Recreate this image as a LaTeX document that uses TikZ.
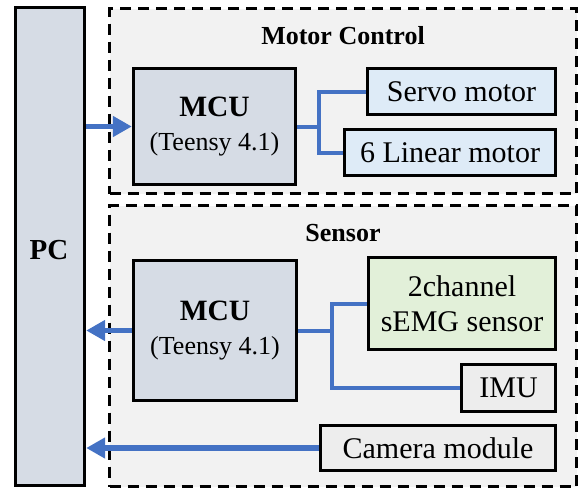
\documentclass[tikz,border=0pt]{standalone}
\usepackage{fontspec}
\setmainfont{Liberation Serif}
\usetikzlibrary{arrows.meta}
\definecolor{pcfill}{HTML}{D6DCE5}
\definecolor{motorfill}{HTML}{DEEBF7}
\definecolor{emgfill}{HTML}{E2F0D9}
\definecolor{grayfill}{HTML}{EDEDED}
\definecolor{groupfill}{HTML}{F2F2F2}
\definecolor{linkblue}{HTML}{4472C4}
\begin{document}
\begin{tikzpicture}[x=1pt,y=-1pt,
  groupbox/.style={draw=black, line width=3.4pt, dash pattern=on 11pt off 7pt, fill=groupfill, inner sep=0pt},
  blockbox/.style={draw=black, line width=3.4pt, inner sep=0pt, align=center, font=\fontsize{30}{35}\selectfont},
  grouptitle/.style={font=\fontsize{26}{30}\selectfont\bfseries, inner sep=0pt},
  mcubox/.style={blockbox, fill=pcfill, font=\fontsize{26}{34}\selectfont},
  link/.style={draw=linkblue, line width=4pt},
  bigarrow/.style={draw=linkblue, line width=5.5pt, -{Triangle[length=19pt,width=20pt]}}
]
\useasboundingbox (0,0) rectangle (580,491);

% groups
\node[groupbox, minimum width=467pt, minimum height=185pt] (motorgrp) at (343,101) {};
\node[groupbox, minimum width=467pt, minimum height=281pt] (sensorgrp) at (343,346) {};
\node[grouptitle] (motortitle) at (343,36) {Motor Control};
\node[grouptitle] (sensortitle) at (343,233) {Sensor};

% PC
\node[blockbox, fill=pcfill, minimum width=69pt, minimum height=478pt] (pc) at (50,246.5) {};
\node[font=\fontsize{29}{34}\selectfont\bfseries, inner sep=0pt] (pclabel) at (49,250) {PC};

% Motor control
\node[mcubox, minimum width=162pt, minimum height=116pt] (mcu1) at (214.5,126.5)
  {{\fontsize{29.5}{34}\selectfont\bfseries MCU}\\(Teensy 4.1)};
\node[blockbox, fill=motorfill, minimum width=188pt, minimum height=46pt] (servo) at (461.5,91.5) {Servo motor};
\node[blockbox, fill=motorfill, minimum width=211pt, minimum height=46pt] (linear) at (450,152.5) {6 Linear motor};

% Sensor
\node[mcubox, minimum width=163pt, minimum height=140pt] (mcu2) at (215,330.5)
  {{\fontsize{29.5}{34}\selectfont\bfseries MCU}\\(Teensy 4.1)};
\node[blockbox, fill=emgfill, minimum width=187pt, minimum height=92pt] (semg) at (462,303.5) {2channel\\sEMG sensor};
\node[blockbox, fill=grayfill, minimum width=94pt, minimum height=47pt] (imu) at (508.5,388) {IMU};
\node[blockbox, fill=grayfill, minimum width=235pt, minimum height=45pt] (camera) at (438,448) {Camera module};

% connectors
\coordinate (j1) at (319,126.5);
\coordinate (j2) at (332,330.5);
\draw[link] (mcu1.east) -- (j1);
\draw[link] (j1) |- (servo.west);
\draw[link] (j1) |- (linear.west);
\draw[link] (mcu2.east) -- (j2);
\draw[link] (j2) |- (semg.west);
\draw[link] (j2) |- (imu.west);

\draw[bigarrow] (pc.east |- mcu1.west) -- (mcu1.west);
\draw[bigarrow] (mcu2.west) -- (pc.east |- mcu2.west);
\draw[bigarrow] (camera.west) -- (pc.east |- camera.west);
\end{tikzpicture}
\end{document}
